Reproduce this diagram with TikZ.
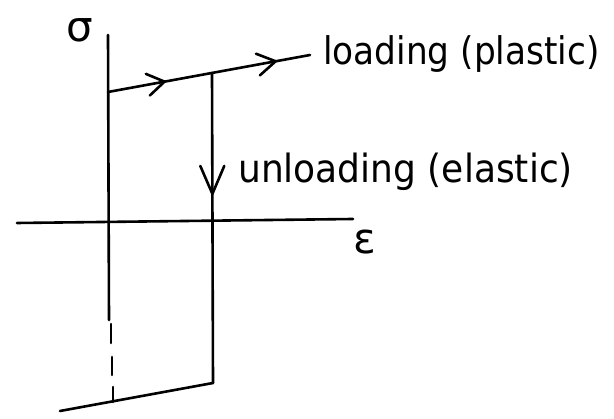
\documentclass[tikz,border=0pt]{standalone}
\usepackage{fontspec}
\setmainfont{DejaVu Sans}
\usetikzlibrary{decorations.markings}
\tikzset{
  ink/.style={line width=2.6pt, line cap=round, line join=round, black},
  midarrow/.style n args={3}{postaction={decorate, decoration={markings,
     mark=at position #1 with {\draw[ink] (-#2,-#3) -- (0pt,0pt) -- (-#2,#3);}}}},
  lbl/.style={anchor=base west, inner sep=0pt, font=\fontsize{34}{40}\selectfont},
  sym/.style={anchor=center, inner sep=0pt, font=\fontsize{42}{46}\selectfont},
}
\begin{document}
\begin{tikzpicture}[x=1pt,y=-1pt]
\useasboundingbox (0,0) rectangle (614,419);
% axes
\coordinate (vtop) at (108,35);
\coordinate (vbot) at (109,320);
\coordinate (d1a) at (111,324);
\coordinate (d1b) at (111,343);
\coordinate (d2a) at (112,357);
\coordinate (d2b) at (112,375);
\coordinate (d3a) at (113,387);
\coordinate (d3b) at (113,402);
\coordinate (hl) at (17,223);
\coordinate (hr) at (353,219);
\draw[ink] (vtop) -- (vbot);
\draw[ink] (d1a) -- (d1b) (d2a) -- (d2b) (d3a) -- (d3b);
\draw[ink] (hl) -- (hr);
% loading line
\coordinate (O) at (108,92);
\coordinate (U) at (212,73);
\coordinate (E) at (310,55);
\draw[ink, midarrow={0.28}{17pt}{11pt}, midarrow={0.83}{18pt}{11pt}] (O) -- (E);
% unloading
\coordinate (Ub) at (213,383);
\draw[ink, midarrow={0.39}{28pt}{12pt}] (U) -- (Ub);
% bottom line
\coordinate (B) at (60,411);
\draw[ink] (B) -- (Ub);
% labels
\node[sym] (sigma) at (80,30) {σ};
\node[sym] (eps) at (365,242) {ε};
\node[lbl] (load) at (323,65) {\scalebox{1.01}[1.12]{loading (plastic)}};
\node[lbl, font=\fontsize{36}{40}\selectfont] (unload) at (238,183) {\scalebox{1}[1.08]{unloading (elastic)}};
\end{tikzpicture}
\end{document}
